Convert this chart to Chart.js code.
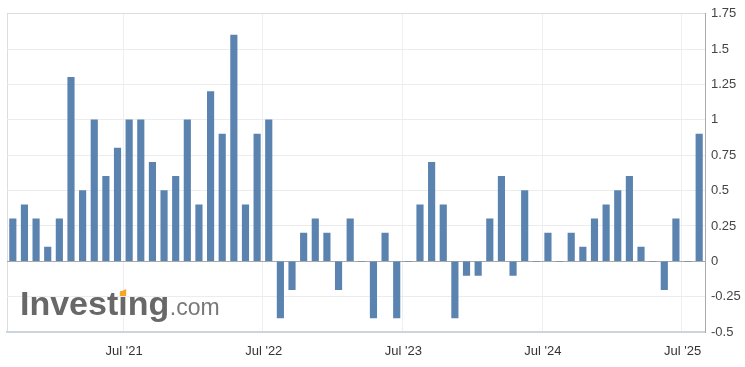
<!DOCTYPE html>
<html>
<head>
<meta charset="utf-8">
<script src="https://cdn.jsdelivr.net/npm/chart.js@4.4.1/dist/chart.umd.min.js"></script>
<style>
html,body{margin:0;padding:0;background:#fff;}
#wrap{width:745px;height:367px;}
</style>
</head>
<body>
<div id="wrap"><canvas id="c" width="745" height="367"></canvas></div>
<script>
// Monthly categories (Sep 2020 .. Aug 2025)
const categories = [
  "Sep '20","Oct '20","Nov '20","Dec '20",
  "Jan '21","Feb '21","Mar '21","Apr '21","May '21","Jun '21","Jul '21","Aug '21","Sep '21","Oct '21","Nov '21","Dec '21",
  "Jan '22","Feb '22","Mar '22","Apr '22","May '22","Jun '22","Jul '22","Aug '22","Sep '22","Oct '22","Nov '22","Dec '22",
  "Jan '23","Feb '23","Mar '23","Apr '23","May '23","Jun '23","Jul '23","Aug '23","Sep '23","Oct '23","Nov '23","Dec '23",
  "Jan '24","Feb '24","Mar '24","Apr '24","May '24","Jun '24","Jul '24","Aug '24","Sep '24","Oct '24","Nov '24","Dec '24",
  "Jan '25","Feb '25","Mar '25","Apr '25","May '25","Jun '25","Jul '25","Aug '25"
];
const values = [
  0.3, 0.4, 0.3, 0.1,
  0.3, 1.3, 0.5, 1.0, 0.6, 0.8, 1.0, 1.0, 0.7, 0.5, 0.6, 1.0,
  0.4, 1.2, 0.9, 1.6, 0.4, 0.9, 1.0, -0.4, -0.2, 0.2, 0.3, 0.2,
  -0.2, 0.3, 0, -0.4, 0.2, -0.4, 0, 0.4, 0.7, 0.4, -0.4, -0.1,
  -0.1, 0.3, 0.6, -0.1, 0.5, 0, 0.2, 0, 0.2, 0.1, 0.3, 0.4,
  0.5, 0.6, 0.1, 0, -0.2, 0.3, 0, 0.9
];
const xTickLabels = ["Jul '21","Jul '22","Jul '23","Jul '24","Jul '25"];
const yMin = -0.5, yMax = 1.75, yStep = 0.25;

const logoPlugin = {
  id: 'logo',
  beforeDatasetsDraw(chart) {
    const ctx = chart.ctx;
    ctx.save();
    const x = 20, base = 315;
    ctx.font = 'bold 34px "Liberation Sans", Arial, sans-serif';
    ctx.fillStyle = '#686868';
    ctx.textBaseline = 'alphabetic';
    ctx.textAlign = 'left';
    const word = 'Investing';
    ctx.fillText(word, x, base);
    const w = ctx.measureText(word).width;
    const pre = ctx.measureText('Invest').width;
    const iw = ctx.measureText('i').width;
    // orange accent over the dot of the second "i"
    ctx.fillStyle = '#f5a623';
    ctx.beginPath();
    ctx.moveTo(x + pre + 1.5, base - 19);
    ctx.lineTo(x + pre + iw - 1.5, base - 19);
    ctx.lineTo(x + pre + iw - 1.5, base - 26);
    ctx.lineTo(x + pre + 1.5, base - 23);
    ctx.closePath();
    ctx.fill();
    ctx.font = '23px "Liberation Sans", Arial, sans-serif';
    ctx.fillStyle = '#787878';
    ctx.fillText('.com', x + w + 0.5, base);
    ctx.restore();
  }
};

new Chart(document.getElementById('c'), {
  type: 'bar',
  data: {
    labels: categories,
    datasets: [{
      data: values,
      backgroundColor: '#5b83b0',
      borderWidth: 0,
      barThickness: 6.5
    }]
  },
  options: {
    responsive: false,
    animation: false,
    devicePixelRatio: 1,
    layout: { padding: { left: 7, top: 12, right: 0, bottom: 0 } },
    plugins: { legend: { display: false }, tooltip: { enabled: false } },
    scales: {
      x: {
        type: 'category',
        offset: true,
        afterFit(s) { s.height = 35; },
        grid: {
          offset: true,
          drawTicks: false,
          color(ctx) {
            const i = ctx.index;
            if (i === 0) return '#dddddd';
            if (i < categories.length && xTickLabels.includes(categories[i])) return '#efefef';
            return 'rgba(0,0,0,0)';
          },
          lineWidth: 1
        },
        border: { display: true, color: '#c9d6e0', width: 2 },
        ticks: {
          autoSkip: false,
          maxRotation: 0,
          minRotation: 0,
          padding: 12,
          labelOffset: -5,
          color: '#333333',
          font: { family: '"Liberation Sans", Arial, sans-serif', size: 13 },
          callback(v, i) {
            const c = categories[i];
            return xTickLabels.includes(c) ? c : '';
          }
        }
      },
      y: {
        position: 'right',
        min: yMin,
        max: yMax,
        afterFit(s) { s.width = 40; },
        grid: {
          drawTicks: false,
          color(ctx) {
            const v = ctx.tick ? ctx.tick.value : null;
            if (v === 0) return '#a8a8a8';
            if (v === yMax) return '#dddddd';
            if (v === yMin) return 'rgba(0,0,0,0)';
            return '#ececec';
          }
        },
        border: { display: true, color: '#aaaaaa', width: 1 },
        ticks: {
          stepSize: yStep,
          padding: 6,
          color: '#444444',
          font: { family: '"Liberation Sans", Arial, sans-serif', size: 13 },
          callback(v) { return String(+v.toFixed(2)); }
        }
      }
    }
  },
  plugins: [logoPlugin]
});
</script>
</body>
</html>
